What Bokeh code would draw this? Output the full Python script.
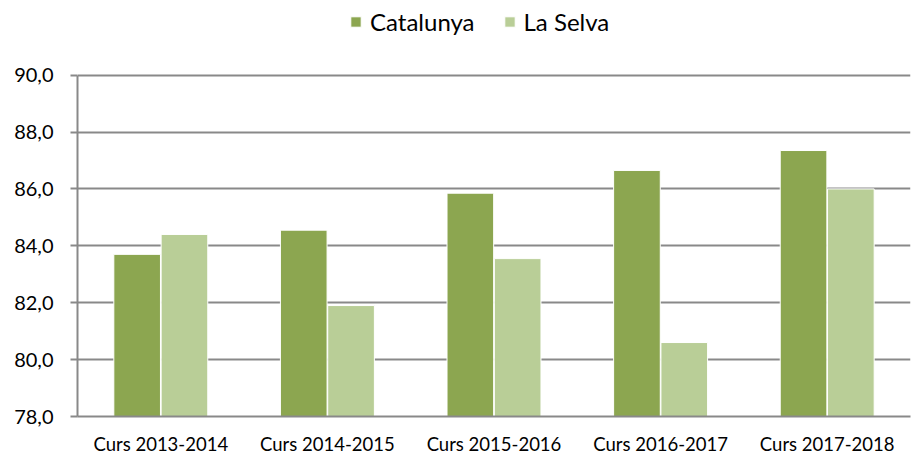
from bokeh.plotting import figure
from bokeh.models import Range1d, FactorRange, FixedTicker, Legend, LegendItem, ColumnDataSource
from bokeh.transform import dodge
from bokeh.embed import file_html
from bokeh.resources import INLINE

categories = ["Curs 2013-2014", "Curs 2014-2015", "Curs 2015-2016", "Curs 2016-2017", "Curs 2017-2018"]
catalunya = [83.7, 84.55, 85.85, 86.65, 87.35]
la_selva = [84.4, 81.9, 83.55, 80.6, 86.0]
series_names = ["Catalunya", "La Selva"]
y_ticks = [78, 80, 82, 84, 86, 88, 90]
y_tick_labels = ["78,0", "80,0", "82,0", "84,0", "86,0", "88,0", "90,0"]

COL_CAT = "#8ca650"
COL_SEL = "#b9ce97"
GRID = "#898989"
FONT = "Lato"

# frame extends to the top of the canvas so the legend can sit inside it;
# axis line and grid stop at 90 (axis bounds / fixed ticks)
Y_MIN, Y_MAX = 78, 90
Y_TOP = Y_MAX + 75 * (Y_MAX - Y_MIN) / 343

src = ColumnDataSource(dict(cat=categories, catalunya=catalunya, la_selva=la_selva))

p = figure(width=913, height=457, x_range=FactorRange(*categories), y_range=Range1d(Y_MIN, Y_TOP),
           output_backend="svg", toolbar_location=None,
           min_border_left=77, min_border_right=3, min_border_top=0, min_border_bottom=39)
p.outline_line_color = None

r1 = p.vbar(x=dodge("cat", -0.142, range=p.x_range), top="catalunya", bottom=Y_MIN, width=0.28,
            source=src, fill_color=COL_CAT, line_color="white", line_width=1)
r2 = p.vbar(x=dodge("cat", 0.142, range=p.x_range), top="la_selva", bottom=Y_MIN, width=0.28,
            source=src, fill_color=COL_SEL, line_color="white", line_width=1)

p.xgrid.grid_line_color = None
p.ygrid.grid_line_color = GRID
p.ygrid.grid_line_width = 2
p.yaxis.ticker = FixedTicker(ticks=y_ticks)
p.yaxis.bounds = (Y_MIN, Y_MAX)
p.yaxis.major_label_overrides = {t: l for t, l in zip(y_ticks, y_tick_labels)}
p.yaxis.axis_line_color = GRID
p.yaxis.axis_line_width = 2
p.yaxis.major_tick_line_color = GRID
p.yaxis.major_tick_line_width = 2
p.yaxis.major_tick_out = 7
p.yaxis.major_tick_in = 0
p.yaxis.minor_tick_line_color = None
p.yaxis.major_label_standoff = 17
p.yaxis.major_label_text_font = FONT
p.yaxis.major_label_text_font_size = "20px"
p.yaxis.major_label_text_color = "#000000"

p.xaxis.axis_line_color = GRID
p.xaxis.axis_line_width = 2
p.xaxis.major_tick_line_color = None
p.xaxis.minor_tick_line_color = None
p.xaxis.major_label_standoff = 10
p.xaxis.major_label_text_font = FONT
p.xaxis.major_label_text_font_size = "18.5px"
p.xaxis.major_label_text_color = "#000000"

legend = Legend(items=[LegendItem(label=series_names[0], renderers=[r1]),
                       LegendItem(label=series_names[1], renderers=[r2])],
                orientation="horizontal", location=(272, 380),
                border_line_color=None, background_fill_alpha=0,
                padding=0, margin=0, spacing=28,
                glyph_width=13, glyph_height=13, label_standoff=8,
                label_text_font=FONT, label_text_font_size="24px", label_text_color="#000000")
p.add_layout(legend, "center")

open("out.html", "w").write(file_html(p, INLINE))
